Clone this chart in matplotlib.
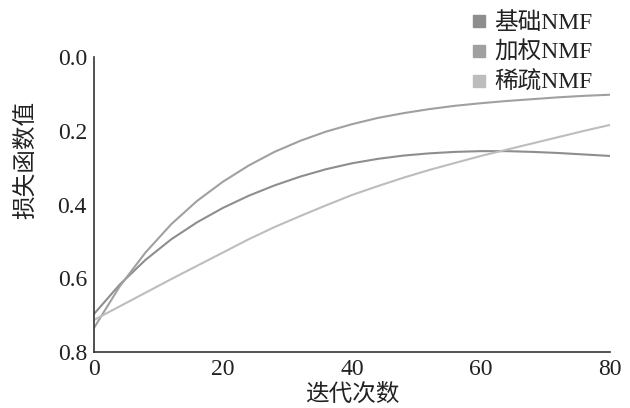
import matplotlib
matplotlib.use("Agg")
import matplotlib.pyplot as plt
from matplotlib.lines import Line2D

plt.rcParams['font.family'] = ['Liberation Serif', 'Noto Sans CJK SC']

iterations = [0, 4, 8, 12, 16, 20, 24, 28, 32, 36, 40,
              44, 48, 52, 56, 60, 64, 68, 72, 76, 80]
basic_nmf = [0.697, 0.617, 0.550, 0.494, 0.448, 0.409, 0.376, 0.348, 0.324, 0.304, 0.288,
             0.276, 0.267, 0.261, 0.257, 0.255, 0.255, 0.257, 0.260, 0.264, 0.268]
weighted_nmf = [0.735, 0.622, 0.530, 0.453, 0.390, 0.338, 0.294, 0.257, 0.227, 0.202, 0.182,
                0.165, 0.152, 0.141, 0.132, 0.125, 0.119, 0.114, 0.109, 0.105, 0.102]
sparse_nmf = [0.713, 0.676, 0.639, 0.602, 0.566, 0.530, 0.494, 0.461, 0.431, 0.402, 0.374,
              0.350, 0.327, 0.306, 0.287, 0.268, 0.251, 0.234, 0.217, 0.200, 0.184]
labels = ['基础NMF', '加权NMF', '稀疏NMF']
colors = ['#8e8e8e', '#a0a0a0', '#bdbdbd']
x_ticks = [0, 20, 40, 60, 80]
y_ticks = [0.0, 0.2, 0.4, 0.6, 0.8]

fig = plt.figure(figsize=(6.3, 4.08), dpi=100)
ax = fig.add_axes([0.149, 0.137, 0.819, 0.723])

for vals, c in zip([basic_nmf, weighted_nmf, sparse_nmf], colors):
    ax.plot(iterations, vals, color=c, lw=1.5, solid_capstyle='round')

ax.set_xlim(0, 80)
ax.set_ylim(0.8, 0.0)
ax.set_xticks(x_ticks)
ax.set_xticklabels([str(t) for t in x_ticks])
ax.set_yticks(y_ticks)
ax.set_yticklabels([f'{t:.1f}' for t in y_ticks])
ax.tick_params(length=0, labelsize=17, colors='#222222', pad=5)
for s in ['top', 'right']:
    ax.spines[s].set_visible(False)
for s in ['left', 'bottom']:
    ax.spines[s].set_color('#333333')
    ax.spines[s].set_linewidth(1.2)

ax.set_xlabel('迭代次数', fontsize=17, color='#222222', labelpad=3)
ax.set_ylabel('损失函数值', fontsize=17, color='#222222')
ax.yaxis.set_label_coords(-0.110, 0.653)

handles = [Line2D([], [], marker='s', linestyle='none', markersize=9,
                  markerfacecolor=c, markeredgecolor=c) for c in colors]
leg = fig.legend(handles, labels, loc='upper left', bbox_to_anchor=(0.726, 0.993),
                 frameon=False, fontsize=17, handletextpad=0.15, labelspacing=0.33,
                 handlelength=1.0, borderaxespad=0)
for t in leg.get_texts():
    t.set_color('#222222')

fig.savefig('out.png', dpi=100)
